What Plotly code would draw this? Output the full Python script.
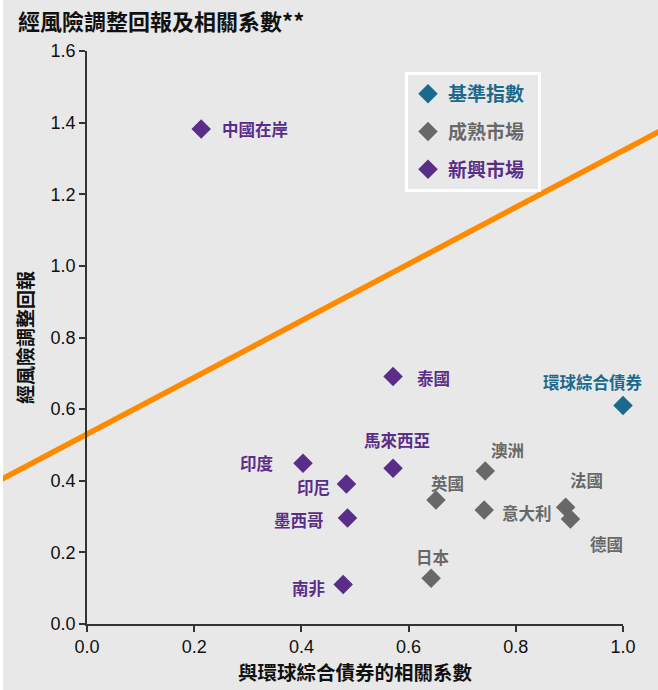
import plotly.graph_objects as go

# Benchmark index
benchmark_names = ["環球綜合債券"]
benchmark_corr = [1.00]
benchmark_ret = [0.61]

# Developed markets
developed_names = ["澳洲", "英國", "意大利", "法國", "德國", "日本"]
developed_corr = [0.743, 0.651, 0.741, 0.893, 0.902, 0.642]
developed_ret = [0.427, 0.346, 0.318, 0.326, 0.293, 0.128]

# Emerging markets
emerging_names = ["中國在岸", "泰國", "馬來西亞", "印度", "印尼", "墨西哥", "南非"]
emerging_corr = [0.213, 0.571, 0.571, 0.403, 0.484, 0.486, 0.478]
emerging_ret = [1.382, 0.691, 0.435, 0.449, 0.391, 0.296, 0.110]

# Reference line: risk-adjusted return = intercept + slope * correlation
line_intercept = 0.530
line_slope = 0.792

x_ticks = [0.0, 0.2, 0.4, 0.6, 0.8, 1.0]
y_ticks = [0.0, 0.2, 0.4, 0.6, 0.8, 1.0, 1.2, 1.4, 1.6]

BLUE = "#1b6a8e"
GREY = "#686868"
PURPLE = "#5a2d88"
ORANGE = "#ff8a00"
BG = "#e8e8e8"
CJK = "Noto Sans CJK TC, Liberation Sans"

X_RANGE = [0.0, 1.0]
Y_RANGE = [0.0, 1.6]

# label placement per point: (xanchor, xshift, yshift)
label_pos = {
    "環球綜合債券": ("center", -30, 24),
    "澳洲": ("center", 22, 21),
    "英國": ("center", 12, 17),
    "意大利": ("left", 16, -3),
    "法國": ("center", 21, 27),
    "德國": ("center", 36, -25),
    "日本": ("center", 2, 21),
    "中國在岸": ("left", 19, 0),
    "泰國": ("left", 22, -1),
    "馬來西亞": ("center", 4, 28),
    "印度": ("right", -27, 0),
    "印尼": ("right", -14, -3),
    "墨西哥": ("right", -22, -2),
    "南非": ("right", -16, -3),
}

fig = go.Figure()

groups = [
    ("基準指數", benchmark_names, benchmark_corr, benchmark_ret, BLUE),
    ("成熟市場", developed_names, developed_corr, developed_ret, GREY),
    ("新興市場", emerging_names, emerging_corr, emerging_ret, PURPLE),
]

annotations = []
for gname, names, xs, ys, color in groups:
    fig.add_trace(go.Scatter(
        x=xs, y=ys, mode="markers",
        name=f"<span style='color:{color}'><b>{gname}</b></span>&nbsp;&nbsp;",
        legendgroup=gname,
        marker=dict(symbol="diamond", size=15, color=color,
                    line=dict(width=0)),
        cliponaxis=False,
        hovertext=names,
    ))
    for n, x, y in zip(names, xs, ys):
        anchor, dx, dy = label_pos[n]
        annotations.append(dict(
            x=x, y=y, xref="x", yref="y", text=f"<b>{n}</b>",
            showarrow=False, xanchor=anchor, yanchor="middle",
            xshift=dx, yshift=dy,
            font=dict(size=16.5, color=color, family=CJK),
        ))

# orange reference line, extended past the axes
def to_paper_x(v):
    return (v - X_RANGE[0]) / (X_RANGE[1] - X_RANGE[0])

def to_paper_y(v):
    return (v - Y_RANGE[0]) / (Y_RANGE[1] - Y_RANGE[0])

lx0, lx1 = -0.25, 1.25
shapes = [
    dict(type="line", xref="paper", yref="paper", layer="below",
         x0=to_paper_x(lx0), y0=to_paper_y(line_intercept + line_slope * lx0),
         x1=to_paper_x(lx1), y1=to_paper_y(line_intercept + line_slope * lx1),
         line=dict(color=ORANGE, width=5.5)),
    # thin white frame strip on the left edge of the canvas
    dict(type="rect", xref="paper", yref="paper", layer="above",
         x0=-87 / 536, x1=-84 / 536, y0=-66 / 573, y1=1 + 51 / 573,
         line=dict(width=0), fillcolor="white"),
]

fig.update_layout(
    width=658, height=690,
    margin=dict(l=87, r=35, t=51, b=66),
    paper_bgcolor=BG, plot_bgcolor=BG,
    font=dict(family="Liberation Sans, Noto Sans CJK TC", size=16, color="#111111"),
    title=dict(
        text="<b>經風險調整回報及相關系數**</b>",
        x=18 / 658, xref="container", xanchor="left",
        y=1 - 22 / 690, yref="container", yanchor="middle",
        font=dict(size=22, color="#111111", family=CJK),
    ),
    xaxis=dict(
        range=X_RANGE, tickvals=x_ticks,
        ticktext=[f"{v:.1f}" for v in x_ticks],
        showgrid=False, zeroline=False,
        showline=True, linecolor="#333333", linewidth=1.5,
        ticks="outside", ticklen=6, tickcolor="#333333", tickwidth=1.5,
        tickfont=dict(size=18, color="#111111"),
        title=dict(text="<b>與環球綜合債券的相關系數</b>", standoff=8,
                   font=dict(size=19.5, family=CJK)),
    ),
    yaxis=dict(
        range=Y_RANGE, tickvals=y_ticks,
        ticktext=[f"{v:.1f}" for v in y_ticks],
        showgrid=False, zeroline=False,
        showline=True, linecolor="#333333", linewidth=1.5,
        ticks="outside", ticklen=6, tickcolor="#333333", tickwidth=1.5,
        tickfont=dict(size=18, color="#111111"),
        title=dict(text="<b>經風險調整回報</b>", standoff=12,
                   font=dict(size=19, family=CJK)),
    ),
    legend=dict(
        x=(405 - 87) / 536, y=(624 - 72) / 573, xanchor="left", yanchor="top",
        bgcolor="rgba(0,0,0,0)", bordercolor="white", borderwidth=3,
        font=dict(size=19, family=CJK),
        tracegroupgap=10,
    ),
    shapes=shapes,
    annotations=annotations,
    showlegend=True,
)

fig.write_html("out.html")
